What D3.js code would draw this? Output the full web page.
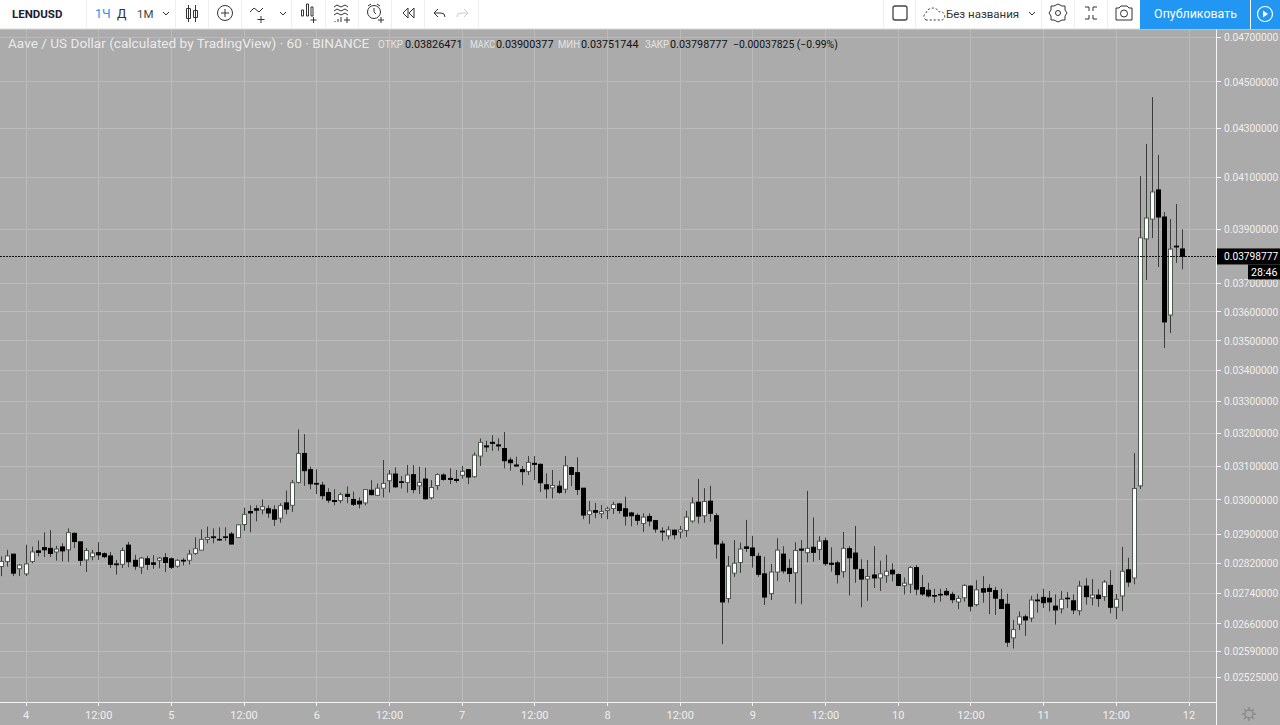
<!DOCTYPE html>
<html><head><meta charset="utf-8"><script src="https://cdn.jsdelivr.net/npm/d3@7"></script>
<style>html,body{margin:0;padding:0;background:#ababab;overflow:hidden}svg{display:block}text{font-family:Roboto,sans-serif}</style></head>
<body><svg id="c" width="1280" height="725"></svg>
<script>
// Prices, in units of 0.00001 USD
const PRICE_UNIT = 1e-5;
const opens=[2812,2826,2846,2806,2792,2826,2855,2864,2862,2852,2866,2858,2904,2880,2830,2839,2850,2847,2841,2819,2818,2871,2829,2810,2833,2822,2829,2836,2833,2813,2829,2829,2848,
2857,2887,2894,2887,2894,2902,2892,2929,2966,2974,2971,2974,2971,2947,2991,2984,3051,3138,3089,3048,3043,3021,2998,2998,3016,3001,2996,2991,3028,3013,3034,3056,3076,
3053,3051,3074,3041,3061,3006,3042,3073,3063,3060,3072,3089,3068,3130,3161,3172,3164,3153,3118,3103,3089,3084,3108,3105,3044,3035,3040,3031,3095,3080,3034,2958,2969,
2960,2969,2975,2988,2974,2962,2955,2932,2952,2940,2910,2897,2913,2908,2912,2939,2993,2954,2996,2954,2874,2726,2794,2823,2866,2863,2840,2792,2739,2797,
2846,2807,2795,2860,2850,2865,2859,2883,2821,2822,2798,2861,2849,2804,2778,2789,2781,2787,2802,2790,2760,2764,2809,2755,2748,2734,2737,2745,
2737,2717,2728,2759,2710,2752,2753,2747,2723,2711,2624,2659,2678,2675,2722,2729,2727,2706,2699,2727,2720,2694,2759,2728,2735,2731,2761,2703,2733,2803,2781,
3041,3864,3939,4052,3947,3589,3837,3826.471];
const highs=[2840,2858,2846,2819,2872,2867,2884,2907,2913,2869,2876,2918,2906,2880,2863,2858,2879,2851,2852,2830,2864,2880,2844,2838,2841,2843,2838,2849,2837,2832,2835,2858,2893,
2915,2923,2918,2921,2921,2908,2930,2977,2984,2984,3001,2984,2984,2990,3027,3058,3212,3197,3098,3090,3053,3034,3031,3021,3039,3024,3007,3031,3058,3048,3118,3088,3096,
3070,3103,3103,3098,3095,3058,3078,3078,3093,3088,3100,3090,3141,3184,3177,3194,3184,3204,3126,3128,3100,3130,3130,3108,3078,3088,3056,3130,3098,3126,3034,2996,2991,
2985,2980,2994,2991,3009,2965,2961,2961,2961,2942,2921,2924,2915,2925,2968,3007,3061,3034,3041,2961,2883,2841,2885,2878,2942,2897,2850,2839,2819,2890,
2868,2832,2879,2885,3026,2949,2896,2892,2865,2828,2908,2868,2925,2832,2830,2868,2828,2844,2821,2793,2782,2813,2816,2789,2768,2752,2752,2754,
2744,2734,2764,2762,2775,2786,2764,2757,2752,2739,2670,2692,2684,2733,2739,2752,2746,2737,2746,2743,2737,2773,2780,2778,2751,2775,2802,2738,2866,2836,3139,
4107,4237,4434,4192,3966,3939,3997,3900.377];
const lows=[2786,2812,2786,2786,2786,2821,2840,2838,2838,2828,2826,2825,2863,2814,2797,2829,2830,2835,2808,2790,2808,2810,2803,2792,2803,2806,2807,2797,2805,2809,2815,2817,2844,
2857,2876,2876,2883,2883,2873,2892,2911,2907,2938,2958,2948,2925,2934,2958,2965,3048,3041,3031,3017,3001,2991,2984,2990,2990,2982,2975,2984,3013,3011,3007,3021,3035,
3033,3021,3019,3017,3001,3001,3029,3056,3046,3050,3062,3046,3065,3100,3143,3146,3146,3093,3086,3098,3043,3073,3058,3023,3004,3004,3017,3019,3040,3014,2944,2931,2947,
2947,2944,2959,2960,2926,2924,2927,2908,2924,2906,2883,2887,2887,2890,2894,2934,2932,2934,2937,2834,2608,2715,2784,2795,2852,2809,2784,2709,2722,2773,
2793,2770,2713,2711,2823,2825,2830,2814,2798,2766,2782,2734,2768,2703,2720,2754,2746,2768,2772,2759,2737,2740,2735,2733,2729,2715,2718,2733,
2714,2698,2718,2692,2706,2715,2685,2683,2700,2601,2597,2644,2629,2665,2689,2701,2692,2658,2687,2701,2685,2682,2710,2708,2704,2720,2687,2672,2693,2757,2764,
3032,3713,3867,3760,3476,3527,3775,3751.744];
const closes=[2826,2841,2794,2816,2819,2852,2851,2858,2848,2860,2855,2906,2881,2829,2856,2849,2844,2839,2818,2817,2856,2825,2813,2835,2818,2818,2835,2823,2810,2829,2827,2846,2861,
2887,2892,2892,2886,2893,2874,2928,2958,2962,2970,2980,2962,2944,2983,2973,3050,3138,3086,3047,3046,3012,2999,2995,3015,3010,2987,2988,3030,3015,3034,3048,3076,3038,
3051,3073,3030,3051,3003,3036,3074,3060,3060,3057,3084,3067,3133,3172,3158,3169,3161,3116,3110,3100,3083,3111,3105,3050,3032,3042,3022,3101,3075,3030,2956,2968,2964,
2966,2974,2986,2969,2953,2954,2941,2950,2939,2916,2908,2914,2900,2914,2950,2991,2953,2995,2961,2874,2717,2813,2821,2860,2862,2842,2791,2730,2797,2857,
2800,2793,2856,2857,2862,2851,2882,2820,2818,2790,2862,2836,2806,2778,2785,2781,2792,2799,2792,2761,2767,2809,2751,2738,2733,2733,2736,2736,
2723,2726,2761,2706,2749,2743,2745,2727,2700,2613,2645,2678,2670,2722,2720,2715,2717,2696,2724,2726,2696,2759,2731,2735,2726,2770,2703,2724,2799,2770,3033,
3868,3943,4044,3947,3565,3826,3834,3798.777];
// Hours counted from 00:00 on day 4; the first candle opens at 20:00 the day before
const FIRST_HOUR = -4;
const priceTicks=[0.047,0.045,0.043,0.041,0.039,0.037,0.036,0.035,0.034,0.033,0.032,0.031,0.03,0.029,0.0282,0.0274,0.0266,0.0259,0.02525];
const timeTickHours=[0,12,24,36,48,60,72,84,96,108,120,132,144,156,168,180,192];
const timeTickLabels=["4","12:00","5","12:00","6","12:00","7","12:00","8","12:00","9","12:00","10","12:00","11","12:00","12"];
const lastPrice=0.03798777, countdown="28:46";
const legendTitle="Aave / US Dollar (calculated by TradingView) · 60 · BINANCE";
const legendKeys=["ОТКР","МАКС","МИН","ЗАКР"];
const legendVals=["0.03826471","0.03900377","0.03751744","0.03798777"];
const legendChange="−0.00037825 (−0.99%)";

const svg=d3.select("#c");
const BG="#ababab",GRID="#bababa",LABEL="#efefef",WICK="#3c3c3c";
const plotR=1216.5, plotT=29, plotB=702;
const x=d3.scaleLinear().domain([0,192]).range([26,1189]);
const y=d3.scaleLog().domain([0.047,0.02525]).range([37,677.5]);
svg.append("rect").attr("width",1280).attr("height",725).attr("fill",BG);

// grid
const g=svg.append("g").attr("stroke",GRID).attr("stroke-width",1).attr("shape-rendering","crispEdges");
g.selectAll(".v").data(timeTickHours).join("line").attr("x1",d=>x(d)).attr("x2",d=>x(d)).attr("y1",plotT).attr("y2",plotB);
g.selectAll(".h").data(priceTicks).join("line").attr("x1",0).attr("x2",plotR).attr("y1",d=>y(d)).attr("y2",d=>y(d));

// candles
const candles=d3.range(opens.length).map(i=>({h:i+FIRST_HOUR,o:opens[i]*PRICE_UNIT,hi:highs[i]*PRICE_UNIT,lo:lows[i]*PRICE_UNIT,c:closes[i]*PRICE_UNIT}));
const cg=svg.append("g");
cg.selectAll(".w").data(candles).join("line").attr("x1",d=>Math.floor(x(d.h))+.5).attr("x2",d=>Math.floor(x(d.h))+.5)
  .attr("y1",d=>y(d.hi)).attr("y2",d=>y(d.lo)).attr("stroke",WICK).attr("stroke-width",1);
cg.selectAll(".b").data(candles).join("rect")
  .attr("x",d=>Math.floor(x(d.h))-1.5).attr("width",4)
  .attr("y",d=>y(Math.max(d.o,d.c))).attr("height",d=>Math.max(.6,Math.abs(y(d.o)-y(d.c))))
  .attr("fill",d=>d.c>=d.o?"#fff":"#000").attr("stroke",d=>d.c>=d.o?"#4d5a4d":"#000").attr("stroke-width",1);

// last price line
svg.append("line").attr("x1",0).attr("x2",plotR).attr("y1",y(lastPrice)).attr("y2",y(lastPrice))
  .attr("stroke","#111").attr("stroke-dasharray","2 1").attr("stroke-width",1).attr("shape-rendering","crispEdges");

// axes frame
const fr=svg.append("g").attr("stroke","#f4f4f4").attr("stroke-width",1).attr("shape-rendering","crispEdges");
fr.append("line").attr("x1",plotR).attr("x2",plotR).attr("y1",plotT).attr("y2",725);
fr.append("line").attr("x1",0).attr("x2",plotR).attr("y1",plotB).attr("y2",plotB);
fr.selectAll(".pt").data(priceTicks).join("line").attr("x1",plotR).attr("x2",plotR+4).attr("y1",d=>y(d)).attr("y2",d=>y(d));
fr.selectAll(".tt").data(timeTickHours).join("line").attr("x1",d=>x(d)).attr("x2",d=>x(d)).attr("y1",plotB).attr("y2",plotB+4);

svg.selectAll(".pl").data(priceTicks).join("text").attr("x",1224).attr("y",d=>y(d)+3.7)
  .attr("fill",LABEL).attr("font-size",10.2).text(d=>d.toFixed(8));
svg.selectAll(".tl").data(timeTickHours).join("text").attr("x",d=>x(d)).attr("y",719).attr("text-anchor","middle")
  .attr("fill",LABEL).attr("font-size",11).text((d,i)=>timeTickLabels[i]);

// last price tag
svg.append("rect").attr("x",1217).attr("y",y(lastPrice)-8).attr("width",63).attr("height",16).attr("fill","#000");
svg.append("text").attr("x",1224).attr("y",y(lastPrice)+3.7).attr("fill","#fff").attr("font-size",10.2).text(lastPrice.toFixed(8));
svg.append("rect").attr("x",1248).attr("y",y(lastPrice)+8).attr("width",32).attr("height",15).attr("fill","#000");
svg.append("text").attr("x",1251).attr("y",y(lastPrice)+19.5).attr("fill","#fff").attr("font-size",10.6).text(countdown);

// legend
const lg=svg.append("g");
lg.append("text").attr("x",8).attr("y",48).attr("font-size",13.6).attr("fill","#eaeaea").text(legendTitle);
const keyX=[378,470,558,645],keyW=[25,25,22,24],valX=[405,496,581,670];
lg.selectAll(".k").data(legendKeys).join("text").attr("x",(d,i)=>keyX[i]).attr("y",48).attr("fill","#e4e4e4").attr("font-size",10.5)
  .attr("textLength",(d,i)=>keyW[i]).attr("lengthAdjust","spacingAndGlyphs").text(d=>d);
lg.selectAll(".vv").data(legendVals).join("text").attr("x",(d,i)=>valX[i]).attr("y",48).attr("fill","#111").attr("font-size",10.8).text(d=>d);
lg.append("text").attr("x",733).attr("y",48).attr("fill","#111").attr("font-size",10.4).text(legendChange);

// toolbar
const tb=svg.append("g");
tb.append("rect").attr("width",1280).attr("height",29).attr("fill","#fff");
tb.append("line").attr("x1",0).attr("x2",1280).attr("y1",29).attr("y2",29).attr("stroke","#d8d8d8");
const seps=[86,175,208,241,291,325,358,391,424,478,883,915,1041,1074,1107];
tb.selectAll(".s").data(seps).join("line").attr("x1",d=>d+.5).attr("x2",d=>d+.5).attr("y1",0).attr("y2",29).attr("stroke","#eeeeee");
tb.append("rect").attr("x",1140).attr("width",140).attr("height",29).attr("fill","#2196f3");
tb.append("line").attr("x1",1250.5).attr("x2",1250.5).attr("y1",0).attr("y2",29).attr("stroke","#fff").attr("stroke-width",1);
const T=(s,xx,col,fs,w,anchor)=>tb.append("text").attr("x",xx).attr("y",18).attr("fill",col).attr("font-size",fs).attr("font-weight",w||400).attr("text-anchor",anchor||"start").text(s);
T("LENDUSD",12,"#1c2030",11.5,700);
T("1Ч",95,"#2196f3",12.5);T("Д",117,"#333",12.5);T("1М",137,"#444",11.5);
T("Без названия",946,"#333",11.5);
T("Опубликовать",1195.5,"#fff",12.4,400,"middle");
// icons
const ic=tb.append("g").attr("fill","none").attr("stroke","#333").attr("stroke-width",1);
const P=d=>ic.append("path").attr("d",d);
const chev=cx=>P(`M${cx-3} 12l3 3l3-3`);
chev(166);chev(283);chev(1032);
P("M188.5 5v17M186.5 8.5h4v10h-4zM195.5 5v17M193.5 10.5h4v7h-4z");
ic.append("circle").attr("cx",225).attr("cy",13).attr("r",7.5);P("M221 13h8M225 9v8");
P("M250 12l4-4l5 4l4-4M261 16v7M257.5 19.5h7");
P("M301.5 10h2v6h-2zM306.5 4h2v12h-2zM311 7h2v9h-2zM313.5 17v6M310.5 20h6");
P("M334 7l3-2l4 2l4-2l3 2M334 11l3-2l4 2l4-2l3 2M334 15l3-2l4 2l4-2l3 2M335 21v1M338 19v3M341 17v5M347 17v6M344 20h6");
ic.append("circle").attr("cx",374).attr("cy",12).attr("r",6.5);P("M368 6l3-2M380 6l-3-2M374 8v4l2 2M381 17v6M378 20h6");
P("M408 8l-5 5l5 5zM414 8l-5 5l5 5z");
P("M434 13l4-4M434 13l4 4M434 13h7a4 4 0 0 1 4 4");
ic.append("path").attr("stroke","#ccc").attr("d","M468 13l-4-4M468 13l-4 4M468 13h-7a4 4 0 0 0-4 4");
ic.append("rect").attr("x",893).attr("y",6).attr("width",14).attr("height",14).attr("rx",2).attr("stroke","#444").attr("stroke-width",1.3);
ic.append("path").attr("stroke-dasharray","2 2").attr("d","M926 20a4 4 0 0 1 0-7a7 7 0 0 1 13-1a4 4 0 0 1 3 8z");
P("M1054 6l4-2l4 2l3 0l0 4l2 3l-2 3l0 4l-3 0l-4 2l-4-2l-3 0l0-4l-2-3l2-3l0-4z");
ic.append("circle").attr("cx",1058).attr("cy",13).attr("r",2.5);
P("M1085 7h4v4M1097 7h-4v4M1085 19h4v-4M1097 19h-4v-4");
P("M1116 8h3l2-2h6l2 2h3v12h-16z");ic.append("circle").attr("cx",1124).attr("cy",13.5).attr("r",3.5);
tb.append("circle").attr("cx",1265).attr("cy",14).attr("r",7.5).attr("fill","none").attr("stroke","#fff").attr("stroke-width",1.2);
tb.append("path").attr("d","M1263 10.5l5 3.5l-5 3.5z").attr("fill","#fff");
// gear on the corner
const gear=svg.append("g").attr("fill","none").attr("stroke","#8a8a8a").attr("stroke-width",1.4);
gear.append("circle").attr("cx",1249).attr("cy",714).attr("r",4);
gear.append("path").attr("d","M1249 707v3M1249 718v3M1242 714h3M1253 714h3M1244 709l2 2M1252 717l2 2M1254 709l-2 2M1246 717l-2 2");
</script></body></html>
